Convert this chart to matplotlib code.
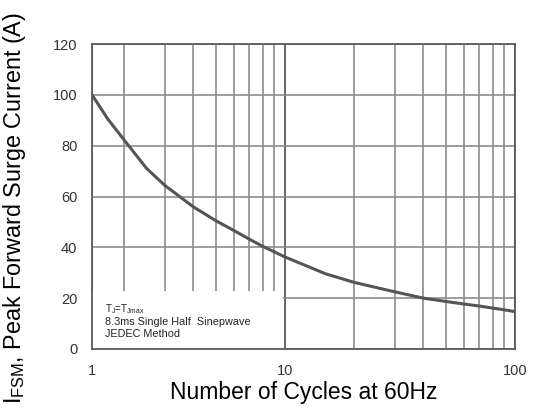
import numpy as np
import matplotlib
matplotlib.use("Agg")
import matplotlib.pyplot as plt
from matplotlib.patches import Rectangle
from matplotlib.ticker import FixedLocator, FixedFormatter, NullFormatter

# ---- data ----
cycles = [1, 1.41, 2, 2.5, 3, 4, 5, 6, 7, 8, 9, 10, 15, 20, 30, 40, 50, 60, 70, 80, 90, 100]
current = [100, 90.4, 82.2, 71.1, 64.4, 55.9, 50.5, 46.6, 43.2, 40.4, 38.2, 36.2,
           29.6, 26.2, 22.5, 20.0, 18.7, 17.7, 16.9, 16.1, 15.4, 14.7]
x_major = [1, 10, 100]
x_major_labels = ["1", "10", "100"]
x_minor = [2, 3, 4, 5, 6, 7, 8, 9, 20, 30, 40, 50, 60, 70, 80, 90]
y_ticks = [0, 20, 40, 60, 80, 100, 120]
note_lines = [r"T$_J$=T$_{Jmax}$", "8.3ms Single Half  Sinepwave", "JEDEC Method"]
xlabel = "Number of Cycles at 60Hz"
ylabel = r"I$_{\mathregular{FSM}}$, Peak Forward Surge Current (A)"

# The reference's first decade is compressed: grid 2..100 is logarithmic,
# while the span 1..2 is squeezed.
A0 = 0.161
L2 = np.log10(2.0)
B0 = (L2 - A0) / L2

def fwd(x):
    x = np.asarray(x, dtype=float)
    lx = np.log10(np.clip(x, 1e-9, None))
    return np.where(x < 2, A0 + B0 * lx, lx)

def inv(y):
    y = np.asarray(y, dtype=float)
    return np.where(y < L2, 10 ** ((y - A0) / B0), 10 ** y)

plt.rcParams['font.family'] = ['Liberation Sans', 'DejaVu Sans']
plt.rcParams['mathtext.fontset'] = 'custom'
plt.rcParams['mathtext.rm'] = 'Liberation Sans'
plt.rcParams['mathtext.it'] = 'Liberation Sans'

fig = plt.figure(figsize=(5.36, 4.16), dpi=100)
ax = fig.add_axes([92/536, 67/416, 423/536, 305/416])
ax.set_xscale('function', functions=(fwd, inv))
ax.set_xlim(1, 100)
ax.set_ylim(0, 120)

ax.xaxis.set_major_locator(FixedLocator(x_major))
ax.xaxis.set_major_formatter(FixedFormatter(x_major_labels))
ax.xaxis.set_minor_locator(FixedLocator(x_minor))
ax.xaxis.set_minor_formatter(NullFormatter())
ax.set_yticks(y_ticks)

ax.grid(True, which='major', axis='x', color='#5a5a5a', linewidth=1.3, zorder=1)
ax.grid(True, which='minor', axis='x', color='#8c8c8c', linewidth=1.2, zorder=1)
ax.grid(True, which='major', axis='y', color='#8c8c8c', linewidth=1.2, zorder=1)
ax.tick_params(which='both', length=0)
ax.tick_params(axis='x', pad=11, labelsize=10.5, labelcolor='#333333')
ax.tick_params(axis='y', pad=10.5, labelsize=10.5, labelcolor='#333333')
for s in ax.spines.values():
    s.set_color('#5a5a5a')
    s.set_linewidth(1.3)

# blank legend area in lower-left
ax.add_patch(Rectangle((1, 0), 9.8 - 1, 23, facecolor='white', edgecolor='none', zorder=1.8))

ax.plot(cycles, current, color='#555555', linewidth=2.2, zorder=3,
        solid_capstyle='round', solid_joinstyle='round')

ys = [0.121, 0.080, 0.039]
sizes = [7, 7.8, 7.8]
for t, yy, fs in zip(note_lines, ys, sizes):
    ax.text(0.031, yy, t, transform=ax.transAxes, fontsize=fs, color='#222222',
            va='baseline', ha='left', zorder=4)

fig.text(304/536, 1 - 392/416, xlabel, fontsize=16.5, ha='center', va='center')
fig.text(15/536, 0.5, ylabel, fontsize=16.8, ha='center', va='center', rotation=90)

fig.savefig('out.png', dpi=100)
